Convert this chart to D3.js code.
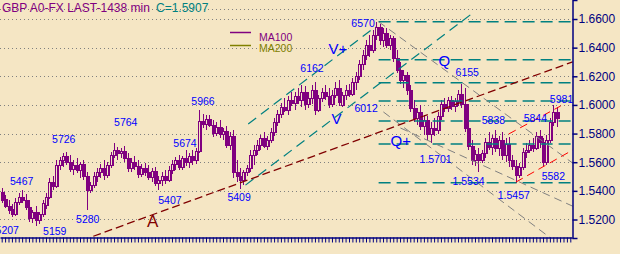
<!DOCTYPE html>
<html lang="en">
<head>
<meta charset="utf-8">
<title>GBP A0-FX</title>
<script src="https://d3js.org/d3.v7.min.js"></script>
<style>
body{margin:0;background:#f5e6c4;}
svg{display:block;font-family:Arial,"Liberation Sans",sans-serif;}
</style>
</head>
<body>
<div id="chart"></div>
<script>
// daily bars, values in pips above 1 (5391 = 1.5391)
var opens = [5391,5342,5293,5272,5237,5321,5356,5335,5286,5209,
  5251,5195,5237,5300,5356,5461,5433,5580,5615,5643,
  5601,5552,5580,5545,5587,5503,5405,5440,5503,5531,
  5559,5510,5580,5650,5685,5664,5678,5629,5559,5601,
  5573,5517,5559,5531,5496,5538,5454,5475,5503,5475,
  5545,5587,5615,5566,5629,5601,5643,5615,5678,5888,
  5867,5902,5860,5804,5846,5797,5818,5720,5783,5531,
  5503,5475,5531,5559,5650,5685,5720,5769,5713,5755,
  5811,5881,5937,5986,5965,6035,6014,6063,6035,6091,
  6007,6049,6105,5965,6049,6091,6063,6007,6070,6119,
  6000,6070,6105,6077,6161,6203,6287,6350,6420,6385,
  6490,6546,6455,6504,6420,6469,6329,6245,6175,6210,
  6105,5979,5909,5951,5853,5895,5797,5839,5825,5923,
  6007,5979,6035,5993,6028,6077,6007,5839,5713,5615,
  5657,5615,5664,5741,5706,5769,5699,5755,5650,5727,
  5615,5573,5510,5566,5671,5685,5720,5699,5783,5741,
  5601,5755,5881,5951]
var highs = [5419,5370,5335,5307,5349,5384,5405,5377,5335,5265,
  5293,5251,5335,5384,5489,5503,5615,5636,5664,5671,
  5650,5615,5629,5601,5615,5531,5461,5531,5559,5587,
  5615,5601,5671,5734,5706,5699,5713,5664,5629,5643,
  5615,5587,5594,5580,5559,5566,5503,5531,5545,5573,
  5615,5636,5650,5643,5685,5664,5685,5699,5965,5937,
  5930,5930,5895,5881,5895,5839,5853,5811,5825,5615,
  5559,5545,5580,5685,5720,5755,5790,5811,5783,5839,
  5909,5965,6014,6049,6063,6091,6091,6119,6140,6133,
  6091,6140,6161,6070,6119,6140,6119,6105,6161,6175,
  6091,6140,6147,6189,6231,6315,6385,6455,6490,6525,
  6581,6567,6539,6539,6490,6483,6385,6301,6245,6231,
  6140,6035,5979,6000,5930,5923,5881,5909,5951,6035,
  6049,6056,6063,6049,6105,6147,6119,6007,5755,5685,
  5699,5685,5769,5811,5790,5825,5783,5811,5769,5776,
  5650,5615,5594,5699,5734,5755,5769,5811,5825,5769,
  5790,5909,6000,5986]
var lows = [5314,5279,5237,5216,5223,5300,5314,5265,5181,5174,
  5153,5167,5216,5272,5342,5405,5419,5545,5566,5580,
  5531,5510,5524,5489,5475,5265,5384,5419,5461,5489,
  5475,5489,5559,5629,5615,5629,5601,5531,5531,5545,
  5489,5496,5503,5475,5461,5433,5405,5433,5447,5461,
  5517,5545,5545,5545,5573,5559,5580,5587,5664,5839,
  5825,5846,5776,5783,5769,5755,5699,5685,5489,5461,
  5412,5440,5503,5531,5580,5650,5685,5699,5685,5734,
  5783,5853,5909,5951,5930,5993,5965,6007,5986,5965,
  5979,6007,5930,5951,6021,6035,5979,5986,6049,5993,
  5986,6035,6056,6063,6105,6175,6245,6315,6336,6364,
  6455,6420,6406,6399,6385,6301,6224,6147,6119,6070,
  5951,5881,5860,5825,5790,5755,5734,5783,5797,5895,
  5951,5951,5965,5951,5993,5979,5811,5685,5580,5573,
  5531,5594,5629,5685,5650,5671,5643,5615,5601,5566,
  5545,5454,5489,5545,5629,5664,5671,5685,5699,5573,
  5580,5734,5853,5846]
var closes = [5335,5293,5265,5237,5321,5356,5335,5286,5209,5251,
  5195,5237,5314,5356,5461,5433,5580,5615,5643,5601,
  5552,5580,5545,5587,5503,5405,5440,5503,5531,5559,
  5510,5580,5650,5685,5664,5678,5629,5559,5601,5573,
  5517,5559,5531,5496,5538,5454,5475,5503,5475,5545,
  5587,5615,5566,5629,5601,5643,5615,5678,5888,5867,
  5902,5860,5804,5846,5797,5818,5720,5783,5531,5503,
  5475,5531,5559,5650,5685,5720,5769,5713,5755,5811,
  5881,5937,5986,5965,6035,6014,6063,6035,6091,6007,
  6049,6105,5965,6049,6091,6063,6007,6070,6119,6021,
  6070,6105,6077,6161,6203,6287,6350,6420,6385,6490,
  6546,6455,6504,6420,6469,6329,6245,6175,6210,6105,
  5979,5909,5951,5853,5895,5797,5839,5825,5923,6007,
  5979,6035,5993,6028,6077,6007,5839,5713,5615,5657,
  5615,5664,5741,5706,5769,5699,5755,5650,5727,5615,
  5573,5510,5566,5671,5685,5720,5699,5783,5741,5601,
  5755,5881,5951,5907]

var yTicks = [1.52,1.54,1.56,1.58,1.60,1.62,1.64,1.66]
var slots = 168  // bar slots on the time axis

// horizontal retracement levels (pips), drawn from bar 110.7 to the right edge
var levels = [6580,6315,6155,6028,5888,5727,5457]
var levelStart = 110.7

// trend lines: [bar0, pips0, bar1, pips1]
var tealLines = [[71.6,5440,137.7,6630],[72.4,5867,109.8,6546]]
var maroonLines = [[26.9,5083,167.7,6301]]
var grayLines = [[110.7,6581,167.7,5594],[117.1,5839,167.7,5293],[112.1,5951,161.3,5069]]
var redLines = [[151.0,5461,167.7,5685],[148.9,5797,164.2,5993]]

// pivot labels: [bar, pips, text]
var pivots = [[-1.8,5097,"5207"],[12.15,5090,"5159"],[2.44,5440,"5467"],[14.8,5734,"5726"],
  [21.85,5174,"5280"],[33.0,5853,"5764"],[45.97,5307,"5407"],[50.4,5706,"5674"],
  [55.7,6000,"5966"],[66.3,5328,"5409"],[87.7,6231,"6162"],[103.6,5951,"6012"],
  [102.7,6546,"6570"],[133.3,6203,"6155"],[141.0,5867,"5838"],[153.3,5881,"5844"],
  [161.0,6014,"5981"],[158.6,5475,"5582"],[122.7,5594,"1.5701"],[132.4,5440,"1.5534"],
  [145.7,5342,"1.5457"]]
var waves = [[96.85,5867,"V"],[96.0,6357,"V+"],[128.3,6273,"Q"],[114.2,5713,"Q+"]]
var trendName = [[42.7,5146,"A"]]

var legendNames = ["MA100","MA200"]
var legendColors = ["#800080","#808000"]

var w = 620, h = 254
var bg = "#f5e6c4"
var purple = "#800080", navy = "#000080"

var xScale = d3.scaleLinear().domain([-0.5, slots - 0.5]).range([0, 572])
var yScale = d3.scaleLinear().domain([1.50708, 1.67327]).range([238, 0])
function price(p){ return 1 + p / 10000 }
function py(p){ return yScale(price(p)) }

var svg = d3.select("#chart").append("svg")
  .attr("width", w).attr("height", h)

svg.append("rect").attr("width", w).attr("height", h).attr("fill", bg)

// dotted grid
svg.selectAll(".grid")
  .data(yTicks)
  .enter()
  .append("line")
  .attr("x1", 0).attr("x2", 572)
  .attr("y1", function(d){ return Math.round(yScale(d)) + 0.5 })
  .attr("y2", function(d){ return Math.round(yScale(d)) + 0.5 })
  .attr("stroke", "#808080")
  .attr("stroke-dasharray", "1,3")
svg.append("line")
  .attr("x1", 0).attr("x2", 572).attr("y1", 9.5).attr("y2", 9.5)
  .attr("stroke", "#808080").attr("stroke-dasharray", "1,3")

// candles
var bars = svg.append("g")
bars.selectAll("line")
  .data(closes)
  .enter()
  .append("line")
  .attr("x1", function(d,i){ return Math.round(xScale(i)) + 0.5 })
  .attr("x2", function(d,i){ return Math.round(xScale(i)) + 0.5 })
  .attr("y1", function(d,i){ return py(highs[i]) })
  .attr("y2", function(d,i){ return py(lows[i]) })
  .attr("stroke", purple)
  .attr("stroke-width", 1.3)
  .attr("shape-rendering", "crispEdges")
bars.selectAll("rect")
  .data(closes)
  .enter()
  .append("rect")
  .attr("x", function(d,i){ return Math.round(xScale(i)) - 0.5 })
  .attr("width", 2.4)
  .attr("y", function(d,i){ return Math.round(Math.min(py(opens[i]), py(d))) + 0.5 })
  .attr("height", function(d,i){ return Math.max(1, Math.round(Math.abs(py(opens[i]) - py(d)))) })
  .attr("fill", function(d,i){ return d >= opens[i] ? bg : purple })
  .attr("stroke", purple)
  .attr("stroke-width", 1.2)
  .attr("shape-rendering", "crispEdges")

// levels and trend lines
svg.selectAll(".level")
  .data(levels)
  .enter()
  .append("line")
  .attr("x1", xScale(levelStart)).attr("x2", 572)
  .attr("y1", function(d){ return py(d) })
  .attr("y2", function(d){ return py(d) })
  .attr("stroke", "#008080")
  .attr("stroke-width", 1.5)
  .attr("stroke-dasharray", "12,6")

function trend(data, color, width, dash){
  svg.append("g").selectAll("line")
    .data(data)
    .enter()
    .append("line")
    .attr("x1", function(d){ return xScale(d[0]) })
    .attr("y1", function(d){ return py(d[1]) })
    .attr("x2", function(d){ return xScale(d[2]) })
    .attr("y2", function(d){ return py(d[3]) })
    .attr("stroke", color)
    .attr("stroke-width", width)
    .attr("stroke-dasharray", dash)
}
trend(grayLines, "#808080", 1, "8,5")
trend(tealLines, "#008080", 1.2, "10,6")
trend(maroonLines, "#800000", 1.3, "8,4")
trend(redLines, "#ff0000", 1, "8,5")

// axes
var yAxis = d3.axisRight(yScale)
  .tickValues(yTicks)
  .tickFormat(d3.format(".4f"))
  .tickSize(5)
  .tickPadding(1)
var gy = svg.append("g").attr("transform", "translate(572.5,0)").call(yAxis)
gy.selectAll("path,line").attr("stroke", navy).attr("stroke-width", 1.5)
gy.selectAll("text").attr("fill", navy).attr("font-size", 12).attr("font-family", "Arial,'Liberation Sans',sans-serif")

var xAxis = d3.axisBottom(xScale)
  .tickValues(d3.range(0, slots))
  .tickFormat("")
  .tickSize(5)
  .tickSizeOuter(0)
var gx = svg.append("g").attr("transform", "translate(0,237.5)").call(xAxis)
gx.selectAll("path").attr("stroke", navy).attr("stroke-width", 1.5)
gx.selectAll("line").attr("stroke", navy)

// labels
function labels(data, color, size){
  svg.append("g").selectAll("text")
    .data(data)
    .enter()
    .append("text")
    .attr("x", function(d){ return xScale(d[0]) })
    .attr("y", function(d){ return py(d[1]) })
    .attr("fill", color)
    .attr("font-size", size)
    .text(function(d){ return d[2] })
}
labels(pivots, "#0000ff", 10.5)
labels(waves, "#0000ff", 15)
labels(trendName, "#800000", 17)

// title
svg.append("text").attr("x", 2).attr("y", 12).attr("fill", purple).attr("font-size", 12)
  .text("GBP A0-FX LAST-1438 min")
svg.append("text").attr("x", 156).attr("y", 12).attr("fill", "#008080").attr("font-size", 12)
  .text("C=" + d3.format(".4f")(price(closes[closes.length - 1])))

// legend
var lg = svg.append("g").selectAll("g")
  .data(legendNames)
  .enter()
  .append("g")
lg.append("line").attr("x1", 230).attr("x2", 251)
  .attr("y1", function(d,i){ return 32.5 + i * 13 })
  .attr("y2", function(d,i){ return 32.5 + i * 13 })
  .attr("stroke", function(d,i){ return legendColors[i] }).attr("stroke-width", 1.5)
lg.append("text").attr("x", 259)
  .attr("y", function(d,i){ return 41 + i * 11 })
  .attr("fill", function(d,i){ return legendColors[i] })
  .attr("font-size", 10.5)
  .text(function(d){ return d })
</script>
</body>
</html>
